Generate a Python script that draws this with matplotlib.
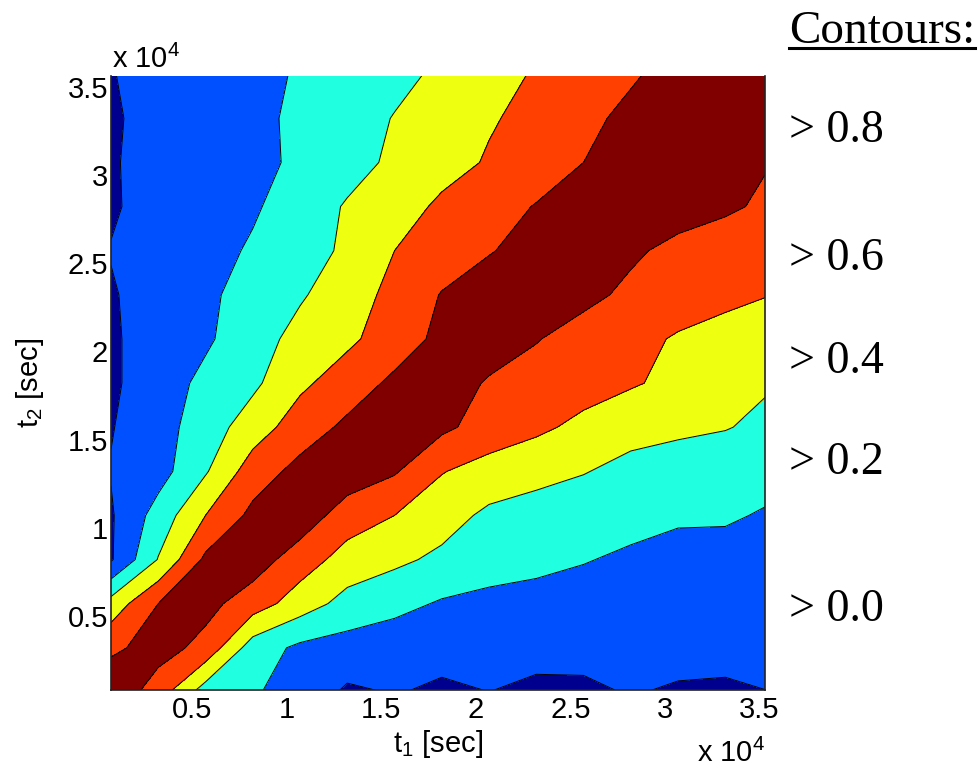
#!/usr/bin/env python3
# -*- coding: utf-8 -*-

# Two-time correlation map C(t1, t2), filled contours like the MATLAB original

# Third-party library imports
import numpy as np
import matplotlib
matplotlib.use("Agg")
import matplotlib.pyplot as plt
from matplotlib.lines import Line2D

t1_grid = [700, 3200, 5700, 8200, 10700, 13200, 15700, 18200,
           20700, 23200, 25700, 28200, 30700, 33200, 35700]
t2_grid = [700, 3200, 5700, 8200, 10700, 13200, 15700, 18200,
           20700, 23200, 25700, 28200, 30700, 33200, 35700]

# Correlation values, one row per t2 (bottom row first), one column per t1
corr_rows = [
    [0.95, 0.70, 0.30, 0.22, 0.12, -0.03, 0.01, -0.03, 0.00, -0.02, -0.03, 0.01, -0.02, -0.02, 0.00],
    [0.76, 0.88, 0.74, 0.30, 0.16, 0.12, 0.08, 0.06, 0.06, 0.03, 0.05, 0.05, 0.06, 0.04, 0.06],
    [0.48, 0.80, 0.86, 0.70, 0.50, 0.33, 0.26, 0.18, 0.14, 0.12, 0.12, 0.10, 0.10, 0.10, 0.10],
    [-0.02, 0.41, 0.84, 0.90, 0.70, 0.52, 0.44, 0.36, 0.30, 0.26, 0.21, 0.17, 0.15, 0.14, 0.13],
    [-0.02, 0.28, 0.60, 0.85, 0.92, 0.70, 0.60, 0.48, 0.36, 0.32, 0.28, 0.26, 0.22, 0.22, 0.18],
    [0.01, 0.12, 0.38, 0.70, 0.86, 0.92, 0.82, 0.61, 0.52, 0.46, 0.41, 0.34, 0.30, 0.28, 0.25],
    [-0.01, 0.12, 0.30, 0.50, 0.70, 0.84, 0.90, 0.84, 0.72, 0.64, 0.55, 0.47, 0.44, 0.41, 0.35],
    [-0.03, 0.10, 0.25, 0.36, 0.56, 0.70, 0.84, 0.90, 0.78, 0.72, 0.68, 0.62, 0.55, 0.48, 0.41],
    [-0.03, 0.10, 0.17, 0.32, 0.46, 0.56, 0.70, 0.85, 0.90, 0.81, 0.72, 0.66, 0.58, 0.54, 0.50],
    [-0.02, 0.10, 0.16, 0.28, 0.38, 0.50, 0.66, 0.81, 0.88, 0.92, 0.85, 0.76, 0.70, 0.64, 0.60],
    [0.01, 0.10, 0.14, 0.22, 0.30, 0.44, 0.60, 0.70, 0.79, 0.86, 0.92, 0.83, 0.75, 0.70, 0.66],
    [-0.03, 0.10, 0.12, 0.18, 0.28, 0.42, 0.50, 0.64, 0.72, 0.81, 0.87, 0.92, 0.88, 0.83, 0.76],
    [-0.02, 0.08, 0.10, 0.14, 0.24, 0.32, 0.44, 0.52, 0.62, 0.70, 0.80, 0.88, 0.92, 0.88, 0.80],
    [-0.03, 0.08, 0.10, 0.15, 0.24, 0.30, 0.41, 0.48, 0.58, 0.66, 0.76, 0.84, 0.90, 0.94, 0.92],
    [-0.01, 0.08, 0.10, 0.14, 0.22, 0.28, 0.34, 0.44, 0.52, 0.62, 0.70, 0.78, 0.86, 0.90, 0.95],
]

# Contour levels and their fill colours (jet-like)
levels = [-1.0, 0.0, 0.2, 0.4, 0.6, 0.8, 1.1]
line_levels = [0.0, 0.2, 0.4, 0.6, 0.8]
fill_colors = ["#00008F", "#0050FF", "#20FFDF", "#EFFF10", "#FF4000", "#800000"]

# Tick positions and labels
tick_values = [5000, 10000, 15000, 20000, 25000, 30000, 35000]
tick_labels = ["0.5", "1", "1.5", "2", "2.5", "3", "3.5"]

# Legend texts on the right
legend_texts = ["> 0.8", "> 0.6", "> 0.4", "> 0.2", "> 0.0"]
legend_baselines = [142, 270, 373, 474, 621]  # pixel rows from the top

plt.rcParams["font.family"] = ["Liberation Sans", "DejaVu Sans"]
plt.rcParams["mathtext.fontset"] = "custom"
plt.rcParams["mathtext.rm"] = "Liberation Sans"

W, H = 980, 769
fig = plt.figure(figsize=(W / 100, H / 100), dpi=100)

# Axes box in pixels: left 111, right 765, top 76, bottom 690
ax = fig.add_axes([111 / W, 1 - 690 / H, 654 / W, 614 / H])

T1, T2 = np.meshgrid(t1_grid, t2_grid)
Z = np.array(corr_rows)

ax.contourf(T1, T2, Z, levels=levels, colors=fill_colors)
ax.contour(T1, T2, Z, levels=line_levels, colors="k", linewidths=0.7)

ax.set_xlim(700, 35300)
ax.set_ylim(810, 35600)

# Ticks
ax.set_xticks(tick_values)
ax.set_xticklabels(tick_labels)
ax.set_yticks(tick_values)
ax.set_yticklabels(tick_labels)
ax.tick_params(axis="both", length=0, labelsize=21, colors="black")
ax.tick_params(axis="x", pad=4)
ax.tick_params(axis="y", pad=2)

# Spines
ax.spines["top"].set_visible(False)
for side in ["left", "bottom", "right"]:
    ax.spines[side].set_linewidth(1.2)
    ax.spines[side].set_color("#222222")

# Axis labels
ax.set_xlabel(r"t$_{\mathregular{1}}$ [sec]", fontsize=21)
ax.set_ylabel(r"t$_{\mathregular{2}}$ [sec]", fontsize=21)
ax.xaxis.label.set_va("center")
ax.yaxis.label.set_va("center")
ax.yaxis.set_label_coords((30 - 111) / 654, 0.5)
ax.xaxis.set_label_coords(0.5, -(744 - 690) / 614)

# Exponent markers (MATLAB style)
fig.text(112 / W, 1 - 68 / H, r"x 10$^{\mathregular{4}}$", fontsize=21,
         ha="left", va="baseline")
fig.text(765 / W, 1 - 762 / H, r"x 10$^{\mathregular{4}}$", fontsize=21,
         ha="right", va="baseline")

# Contour legend on the right
fig.text(789 / W, 1 - 43 / H, "Contours:", fontsize=34,
         family="Liberation Serif", ha="left", va="baseline")
fig.add_artist(Line2D([789 / W, 975 / W], [1 - 48 / H, 1 - 48 / H],
                      color="black", linewidth=2.2,
                      transform=fig.transFigure))
for text, base in zip(legend_texts, legend_baselines):
    fig.text(789 / W, 1 - base / H, text, fontsize=33,
             family="Liberation Serif", ha="left", va="baseline")

fig.savefig("out.png", dpi=100)
